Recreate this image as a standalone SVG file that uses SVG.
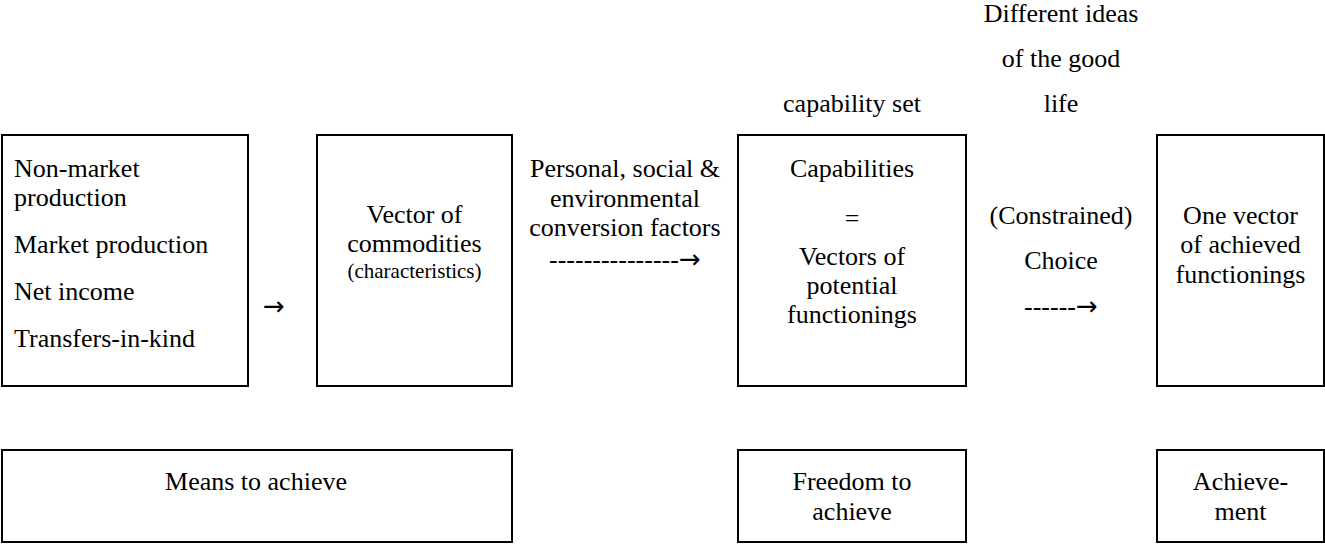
<svg xmlns="http://www.w3.org/2000/svg" width="1325" height="544" viewBox="0 0 1325 544" font-family="'Liberation Serif', 'Times New Roman', 'DejaVu Serif', serif">
<style>
rect.box{fill:#fff;stroke:#000;stroke-width:2}
text{font-family:'Liberation Serif','Times New Roman','DejaVu Serif',serif;font-size:26px;fill:#000}
.c{text-anchor:middle}
.small{font-size:21px}
.arr{font-family:'DejaVu Sans',sans-serif}
</style>
<rect width="1325" height="544" fill="#fff"/>
<g id="header-labels">
<text class="c" x="852" y="112">capability set</text>
<text class="c" x="1061" y="22">Different ideas</text>
<text class="c" x="1061" y="67">of the good</text>
<text class="c" x="1061" y="112">life</text>
</g>
<g id="node-means-sources">
<rect class="box" x="2" y="135" width="246" height="251"/>
<text x="14" y="177">Non-market</text>
<text x="14" y="206">production</text>
<text x="14" y="253">Market production</text>
<text x="14" y="300">Net income</text>
<text x="14" y="347">Transfers-in-kind</text>
</g>
<g id="node-commodities">
<rect class="box" x="317" y="135" width="195" height="251"/>
<text class="c" x="414.5" y="223">Vector of</text>
<text class="c" x="414.5" y="252">commodities</text>
<text class="c small" x="414.5" y="278">(characteristics)</text>
</g>
<g id="node-capabilities">
<rect class="box" x="738" y="135" width="228" height="251"/>
<text class="c" x="852" y="177">Capabilities</text>
<text class="c" x="852" y="227">=</text>
<text class="c" x="852" y="265">Vectors of</text>
<text class="c" x="852" y="294">potential</text>
<text class="c" x="852" y="323">functionings</text>
</g>
<g id="node-achieved">
<rect class="box" x="1157" y="135" width="167" height="251"/>
<text class="c" x="1240.5" y="224">One vector</text>
<text class="c" x="1240.5" y="253">of achieved</text>
<text class="c" x="1240.5" y="283">functionings</text>
</g>
<g id="node-means">
<rect class="box" x="2" y="450" width="510" height="92"/>
<text class="c" x="256" y="490">Means to achieve</text>
</g>
<g id="node-freedom">
<rect class="box" x="738" y="450" width="228" height="92"/>
<text class="c" x="852" y="490">Freedom to</text>
<text class="c" x="852" y="520">achieve</text>
</g>
<g id="node-achievement">
<rect class="box" x="1157" y="450" width="167" height="92"/>
<text class="c" x="1240.5" y="490">Achieve-</text>
<text class="c" x="1240.5" y="520">ment</text>
</g>
<g id="connectors">
<text class="arr" x="263" y="315">→</text>
<text class="c" x="625" y="177">Personal, social &amp;</text>
<text class="c" x="625" y="207">environmental</text>
<text class="c" x="625" y="236">conversion factors</text>
<text x="549" y="268">---------------<tspan class="arr">→</tspan></text>
<text class="c" x="1061" y="224">(Constrained)</text>
<text class="c" x="1061" y="269">Choice</text>
<text x="1024" y="315">------<tspan class="arr">→</tspan></text>
</g>
</svg>
